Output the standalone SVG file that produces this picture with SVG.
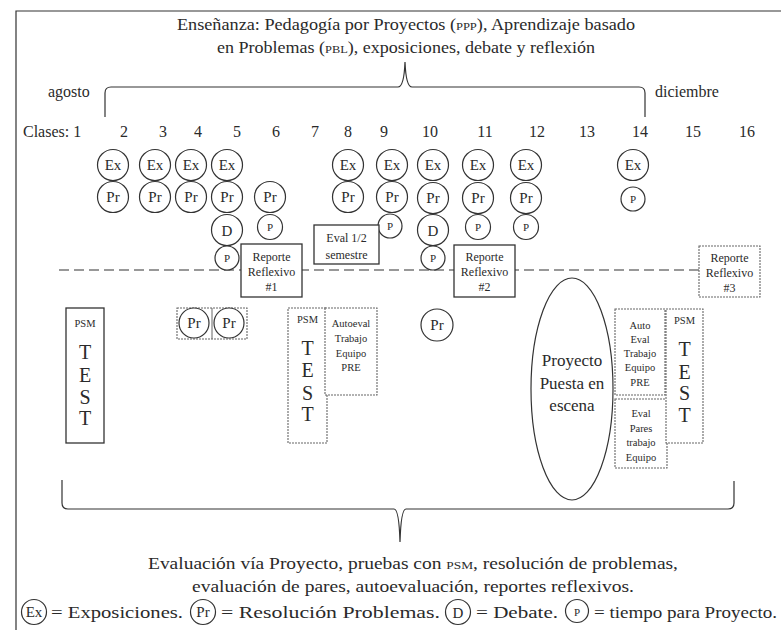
<svg xmlns="http://www.w3.org/2000/svg" width="781" height="630" viewBox="0 0 781 630">
<style>
text{font-family:"Liberation Serif","DejaVu Serif",serif;fill:#2a2a2a;}
.t16{font-size:16px;}
.t17{font-size:17px;}
.num{font-size:16px;text-anchor:middle;}
.c{fill:#fff;stroke:#333;stroke-width:1.2;}
.cl{font-size:15px;text-anchor:middle;}
.pl{font-size:11px;text-anchor:middle;}
.box{fill:#fff;stroke:#333;stroke-width:1.3;}
.boxl{fill:#fff;stroke:#666;stroke-width:1.1;stroke-dasharray:2 1;}
.bt{font-size:12px;text-anchor:middle;}
.st{font-size:10.5px;text-anchor:middle;}
.big{font-size:20px;text-anchor:middle;}
.line{fill:none;stroke:#333;stroke-width:1.2;}
.sc{font-size:11px;}
</style>
<rect width="781" height="630" fill="#fff"/>
<g id="frame">
<path class="line" d="M16,630 V11 H781"/>
</g>
<g id="title">
<text class="t16" x="177" y="30" textLength="458" lengthAdjust="spacingAndGlyphs">Enseñanza: Pedagogía por Proyectos (<tspan class="sc">PPP</tspan>), Aprendizaje basado</text>
<text class="t16" x="217" y="53" textLength="378" lengthAdjust="spacingAndGlyphs">en Problemas (<tspan class="sc">PBL</tspan>), exposiciones, debate y reflexión</text>
<text class="t16" x="48" y="97">agosto</text>
<text class="t16" x="655" y="97">diciembre</text>
</g>
<g id="connectors">
<path class="line" d="M105,117 V93 Q105,87 111,87 H398 Q404,87 405,62 Q406,87 412,87 H639 Q645,87 645,93 V117"/>
<path class="line" stroke-dasharray="10 5" d="M59,270 H699"/>
<path class="line" d="M62,480 V503 Q62,509 68,509 H394 Q399,509 400,542 Q401,509 406,509 H728 Q734,509 734,503 V481"/>
</g>
<g id="clases">
<text class="t16" x="23" y="137">Clases: 1</text>
<text class="num" x="124" y="137">2</text>
<text class="num" x="163" y="137">3</text>
<text class="num" x="198" y="137">4</text>
<text class="num" x="237" y="137">5</text>
<text class="num" x="276" y="137">6</text>
<text class="num" x="315" y="137">7</text>
<text class="num" x="348" y="137">8</text>
<text class="num" x="384" y="137">9</text>
<text class="num" x="430" y="137">10</text>
<text class="num" x="485" y="137">11</text>
<text class="num" x="537" y="137">12</text>
<text class="num" x="587" y="137">13</text>
<text class="num" x="640" y="137">14</text>
<text class="num" x="693" y="137">15</text>
<text class="num" x="747" y="137">16</text>
</g>
<g id="col2"><circle class="c" cx="113" cy="165" r="15.5"/><text class="cl" x="113" y="170">Ex</text><circle class="c" cx="113" cy="197" r="15.5"/><text class="cl" x="113" y="202">Pr</text></g>
<g id="col3"><circle class="c" cx="155" cy="165" r="15.5"/><text class="cl" x="155" y="170">Ex</text><circle class="c" cx="155" cy="197" r="15.5"/><text class="cl" x="155" y="202">Pr</text></g>
<g id="col4"><circle class="c" cx="191" cy="165" r="15.5"/><text class="cl" x="191" y="170">Ex</text><circle class="c" cx="191" cy="197" r="15.5"/><text class="cl" x="191" y="202">Pr</text></g>
<g id="col5"><circle class="c" cx="227" cy="165" r="15.5"/><text class="cl" x="227" y="170">Ex</text><circle class="c" cx="227" cy="197" r="15.5"/><text class="cl" x="227" y="202">Pr</text><circle class="c" cx="227" cy="230" r="15.5"/><text class="cl" x="227" y="236" font-size="16">D</text><circle class="c" cx="227" cy="258" r="12"/><text class="pl" x="227" y="262">P</text></g>
<g id="col6"><circle class="c" cx="270" cy="197" r="15.5"/><text class="cl" x="270" y="202">Pr</text><circle class="c" cx="270" cy="227" r="12.5"/><text class="pl" x="270" y="231">P</text></g>
<g id="col8"><circle class="c" cx="348" cy="165" r="15.5"/><text class="cl" x="348" y="170">Ex</text><circle class="c" cx="348" cy="197" r="15.5"/><text class="cl" x="348" y="202">Pr</text></g>
<g id="col9"><circle class="c" cx="392" cy="165" r="15.5"/><text class="cl" x="392" y="170">Ex</text><circle class="c" cx="392" cy="197" r="15.5"/><text class="cl" x="392" y="202">Pr</text><circle class="c" cx="390" cy="226" r="12"/><text class="pl" x="390" y="230">P</text></g>
<g id="col10"><circle class="c" cx="433" cy="165" r="15.5"/><text class="cl" x="433" y="170">Ex</text><circle class="c" cx="433" cy="198" r="15.5"/><text class="cl" x="433" y="203">Pr</text><circle class="c" cx="433" cy="230" r="15.5"/><text class="cl" x="433" y="236" font-size="16">D</text><circle class="c" cx="433" cy="258" r="12"/><text class="pl" x="433" y="262">P</text></g>
<g id="col11"><circle class="c" cx="478" cy="165" r="15.5"/><text class="cl" x="478" y="170">Ex</text><circle class="c" cx="478" cy="198" r="15.5"/><text class="cl" x="478" y="203">Pr</text><circle class="c" cx="478" cy="227" r="12.5"/><text class="pl" x="478" y="231">P</text></g>
<g id="col12"><circle class="c" cx="526" cy="165" r="15.5"/><text class="cl" x="526" y="170">Ex</text><circle class="c" cx="526" cy="198" r="15.5"/><text class="cl" x="526" y="203">Pr</text><circle class="c" cx="526" cy="227" r="12.5"/><text class="pl" x="526" y="231">P</text></g>
<g id="col14"><circle class="c" cx="633" cy="165" r="15.5"/><text class="cl" x="633" y="170">Ex</text><circle class="c" cx="633" cy="199" r="12"/><text class="pl" x="633" y="203">P</text></g>
<g id="reporte1"><rect class="box" x="241" y="244" width="61" height="53"/><text class="bt" x="271.5" y="261">Reporte</text><text class="bt" x="271.5" y="276">Reflexivo</text><text class="bt" x="271.5" y="291">#1</text></g>
<g id="eval-semestre"><rect class="box" x="314" y="225" width="65" height="39"/><text class="bt" x="346.5" y="242">Eval 1/2</text><text class="bt" x="346.5" y="259">semestre</text></g>
<g id="reporte2"><rect class="box" x="454" y="245" width="61" height="52"/><text class="bt" x="484.5" y="261">Reporte</text><text class="bt" x="484.5" y="276">Reflexivo</text><text class="bt" x="484.5" y="291">#2</text></g>
<g id="reporte3"><rect class="boxl" x="699" y="246" width="61" height="51"/><text class="bt" x="729.5" y="262">Reporte</text><text class="bt" x="729.5" y="277">Reflexivo</text><text class="bt" x="729.5" y="292">#3</text></g>
<g id="test1"><rect class="box" x="66" y="308" width="38" height="135"/><text class="st" x="85" y="327" font-size="12">PSM</text><text class="big" x="85" y="359">T</text><text class="big" x="85" y="382">E</text><text class="big" x="85" y="404">S</text><text class="big" x="85" y="425">T</text></g>
<g id="pr-pair"><rect class="boxl" x="177" y="308" width="70" height="31"/><line x1="212" y1="308" x2="212" y2="339" stroke="#666" stroke-width="1"/><circle class="c" cx="194" cy="323" r="15"/><text class="cl" x="194" y="328">Pr</text><circle class="c" cx="229" cy="323" r="15"/><text class="cl" x="229" y="328">Pr</text></g>
<g id="test2"><rect class="boxl" x="288" y="308" width="39" height="135"/><text class="st" x="307.5" y="323" font-size="12">PSM</text><text class="big" x="307.5" y="355">T</text><text class="big" x="307.5" y="377">E</text><text class="big" x="307.5" y="400">S</text><text class="big" x="307.5" y="421">T</text></g>
<g id="autoeval1"><rect class="boxl" x="325" y="308" width="52" height="87"/><text class="st" x="351" y="327">Autoeval</text><text class="st" x="351" y="342">Trabajo</text><text class="st" x="351" y="357">Equipo</text><text class="st" x="351" y="371">PRE</text></g>
<g id="pr-single"><circle class="c" cx="437" cy="325" r="16"/><text class="cl" x="437" y="330">Pr</text></g>
<g id="proyecto"><ellipse class="c" cx="572" cy="389" rx="41" ry="111"/><text x="572" y="366" font-size="17" text-anchor="middle">Proyecto</text><text x="572" y="389" font-size="17" text-anchor="middle">Puesta en</text><text x="572" y="411" font-size="17" text-anchor="middle">escena</text></g>
<g id="autoeval2"><rect class="boxl" x="615" y="309" width="50" height="86"/><text class="st" x="640" y="329">Auto</text><text class="st" x="640" y="343">Eval</text><text class="st" x="640" y="357">Trabajo</text><text class="st" x="640" y="371">Equipo</text><text class="st" x="640" y="386">PRE</text></g>
<g id="evalpares"><rect class="boxl" x="615" y="399" width="52" height="69"/><text class="st" x="641" y="417">Eval</text><text class="st" x="641" y="432">Pares</text><text class="st" x="641" y="446">trabajo</text><text class="st" x="641" y="461">Equipo</text></g>
<g id="test3"><rect class="boxl" x="666" y="309" width="37" height="134"/><text class="st" x="684.5" y="324" font-size="12">PSM</text><text class="big" x="684.5" y="356">T</text><text class="big" x="684.5" y="379">E</text><text class="big" x="684.5" y="400">S</text><text class="big" x="684.5" y="422">T</text></g>
<g id="evaluacion">
<text class="t16" x="148" y="569" textLength="530" lengthAdjust="spacingAndGlyphs">Evaluación vía Proyecto, pruebas con <tspan class="sc">PSM</tspan>, resolución de problemas,</text>
<text class="t16" x="192" y="592" textLength="442" lengthAdjust="spacingAndGlyphs">evaluación de pares, autoevaluación, reportes reflexivos.</text>
</g>
<g id="legend">
<circle class="c" cx="34" cy="612" r="12.5"/><text class="cl" x="34" y="617" font-size="14">Ex</text>
<text class="t17" x="51" y="618" textLength="132" lengthAdjust="spacingAndGlyphs">= Exposiciones.</text>
<circle class="c" cx="203" cy="612" r="12.5"/><text class="cl" x="203" y="617" font-size="14">Pr</text>
<text class="t17" x="221" y="618" textLength="219" lengthAdjust="spacingAndGlyphs">= Resolución Problemas.</text>
<circle class="c" cx="458" cy="612" r="12.5"/><text class="cl" x="458" y="618" font-size="15">D</text>
<text class="t17" x="476" y="618" textLength="82" lengthAdjust="spacingAndGlyphs">= Debate.</text>
<circle class="c" cx="577" cy="611" r="11.5"/><text class="pl" x="577" y="616" font-size="13">P</text>
<text class="t17" x="594" y="618" textLength="183" lengthAdjust="spacingAndGlyphs">= tiempo para Proyecto.</text>
</g>
</svg>
